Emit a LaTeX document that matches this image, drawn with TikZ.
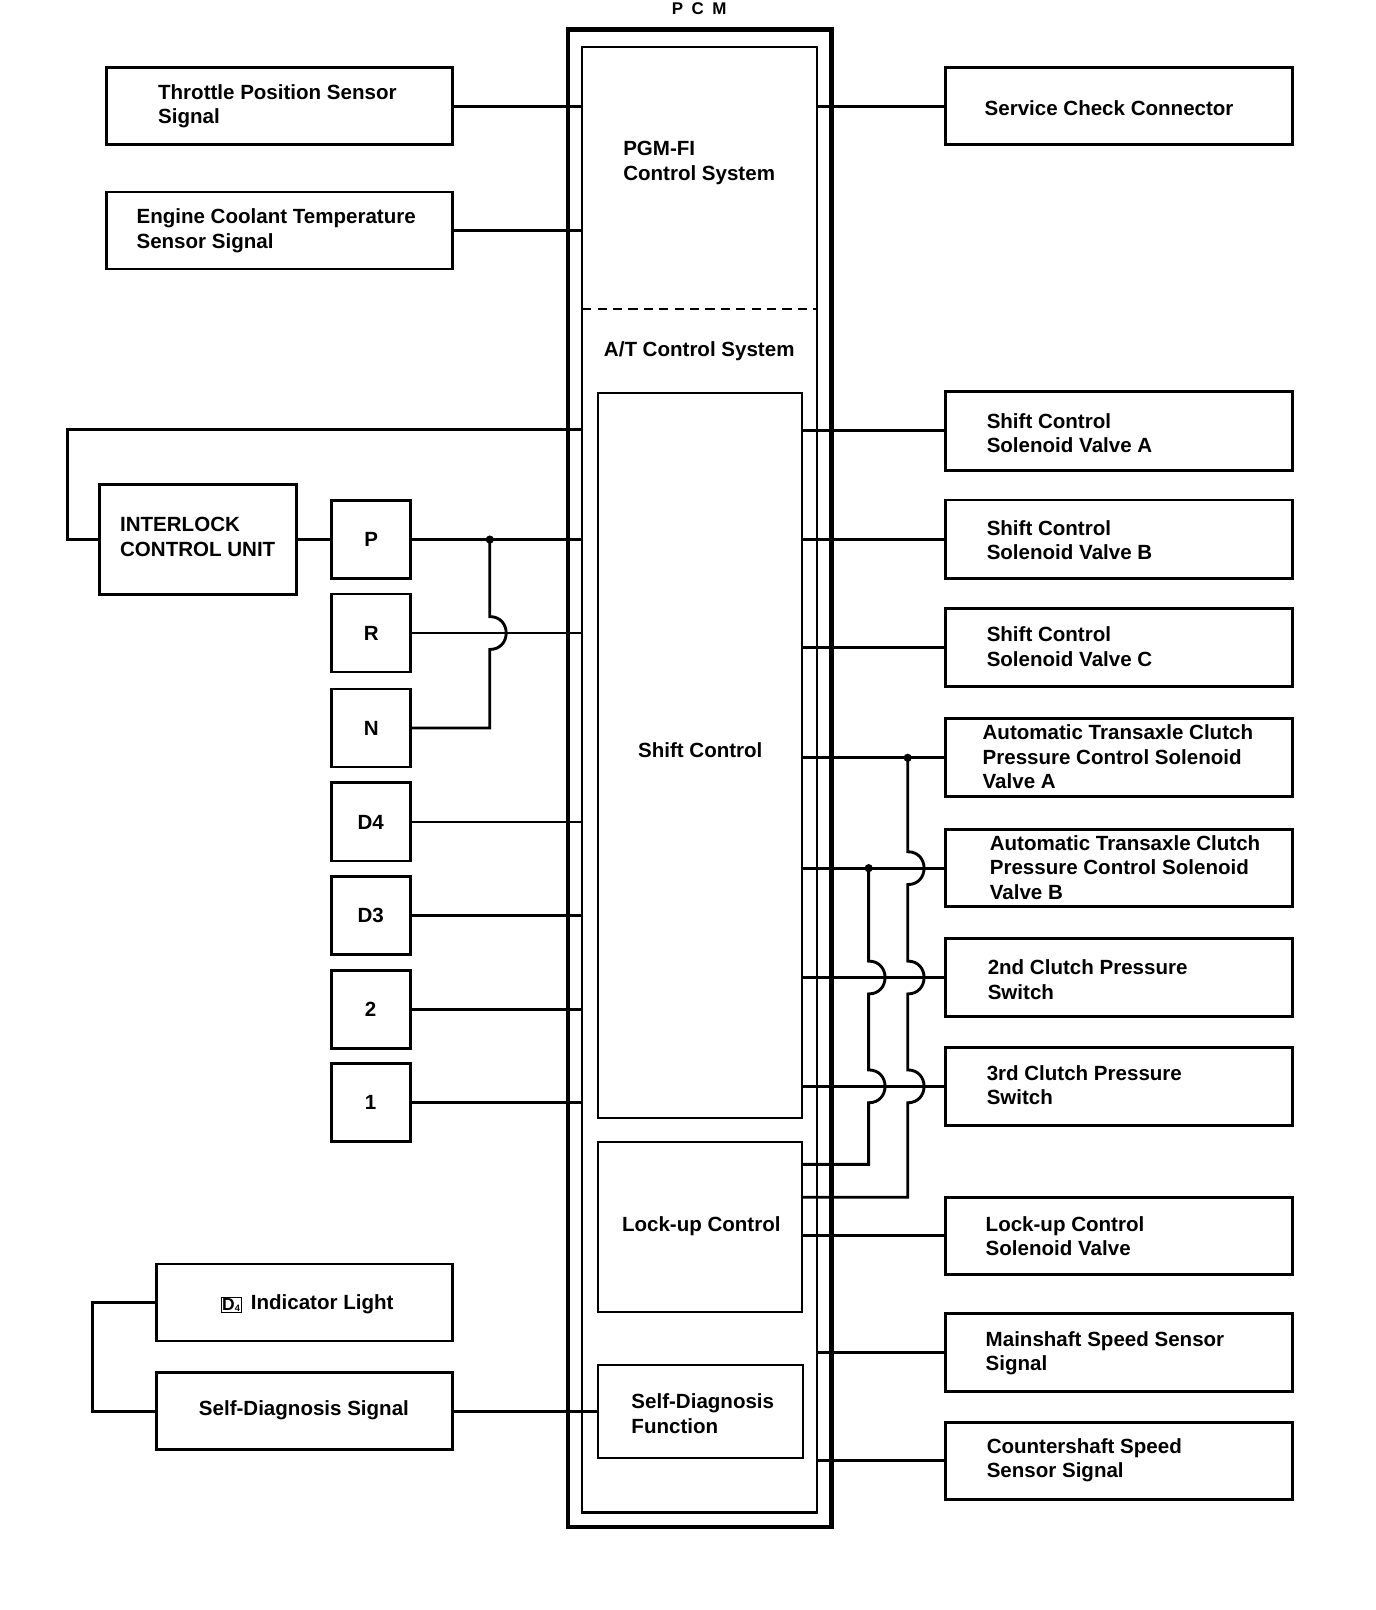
\documentclass[tikz,border=0pt]{standalone}
\usepackage{fontspec}
\setmainfont{Liberation Sans}
\usetikzlibrary{fit,calc}
\begin{document}
\begin{tikzpicture}[x=1pt,y=-1pt,
  every node/.style={inner sep=0pt,outer sep=0pt},
  box/.style={draw,line width=2.8pt},
  thinbox/.style={draw,line width=1.8pt},
  selbox/.style={draw,line width=2.8pt,minimum width=77pt,minimum height=76pt,font=\fontsize{20}{24}\selectfont\bfseries},
  wire/.style={line width=2.8pt},
  lbl/.style={font=\fontsize{20}{24}\selectfont\bfseries,align=left},
  dotn/.style={circle,fill,minimum size=8pt}]
\useasboundingbox (0,0) rectangle (1340,1568);

% ---------- PCM ----------
\node[draw,line width=4.5pt,fit={(553,29) (810,1487)}] (pcm) {};
\node[draw,line width=2pt,fit={(567,46) (796,1473)}] (pcmin) {};
\node[font=\fontsize{16.5}{18}\selectfont\bfseries,anchor=base] (pcmlbl) at (681,14) {P\hspace{0.5em}C\hspace{0.5em}M};
\coordinate (dashy) at (0,301);
\draw[line width=2pt,dash pattern=on 9pt off 6pt] (pcmin.west |- dashy) -- (pcmin.east |- dashy);
\node[lbl,anchor=west] (pgmfi) at (607,158.5) {PGM-FI\\Control System};
\node[lbl] (atcs) at (681,342) {A/T Control System};

\node[thinbox,fit={(582,383) (781,1089)}] (shift) {};
\node[lbl] (shiftt) at (682,731) {Shift Control};
\node[thinbox,fit={(582,1112) (781,1278)}] (lockup) {};
\node[lbl] (lockupt) at (683,1194) {Lock-up Control};
\node[thinbox,fit={(582,1329) (782,1420)}] (sdfun) {};
\node[lbl,anchor=west] (sdfunt) at (615,1377) {Self-Diagnosis\\Function};

% ---------- left boxes ----------
\node[box,fit={(104,66) (441,141)}] (tps) {};
\node[lbl,anchor=west] (tpst) at (154,103.5) {Throttle Position Sensor\\Signal};
\node[box,fit={(104,187) (441,262)}] (ect) {};
\node[lbl,anchor=west] (ectt) at (133,224.5) {Engine Coolant Temperature\\Sensor Signal};
\node[box,fit={(97,472) (289,579)}] (ilc) {};
\node[lbl,anchor=west] (ilct) at (117,523) {INTERLOCK\\CONTROL UNIT};

\node[selbox] (P)  at (361.5,525.5) {P};
\node[selbox] (R)  at (361.5,616.5) {R};
\node[selbox] (N)  at (361.5,709) {N};
\node[selbox] (D4) at (361,800.5) {D4};
\node[selbox] (D3) at (361,892) {D3};
\node[selbox] (S2) at (361,983) {2};
\node[selbox] (S1) at (361,1073.5) {1};

\node[box,fit={(152,1231) (441,1306)}] (dli) {};
\node[lbl] (dlit) at (299,1270) {\setlength{\fboxsep}{1pt}\setlength{\fboxrule}{0.6pt}\raisebox{-1.5pt}{\fbox{\fontsize{17}{17}\selectfont D\raisebox{-0.5pt}{\fontsize{9}{9}\selectfont 4}}}\hspace{0.45em}Indicator Light};
\node[box,fit={(152,1337) (441,1412)}] (sds) {};
\node[lbl] (sdst) at (296,1373) {Self-Diagnosis Signal};

% ---------- right boxes ----------
\node[box,fit={(921,66) (1259,141)}] (scc) {};
\node[lbl,anchor=west] (scct) at (959,105) {Service Check Connector};
\node[box,fit={(921,381) (1259,458)}] (scA) {};
\node[lbl,anchor=west] (scAt) at (961,422) {Shift Control\\Solenoid Valve A};
\node[box,fit={(921,487) (1259,563)}] (scB) {};
\node[lbl,anchor=west] (scBt) at (961,526) {Shift Control\\Solenoid Valve B};
\node[box,fit={(921,593) (1259,669)}] (scC) {};
\node[lbl,anchor=west] (scCt) at (961,630) {Shift Control\\Solenoid Valve C};
\node[box,fit={(921,700) (1259,776)}] (atcA) {};
\node[lbl,anchor=west] (atcAt) at (957,737) {Automatic Transaxle Clutch\\Pressure Control Solenoid\\Valve A};
\node[box,fit={(921,808) (1259,883)}] (atcB) {};
\node[lbl,anchor=west] (atcBt) at (964,845) {Automatic Transaxle Clutch\\Pressure Control Solenoid\\Valve B};
\node[box,fit={(921,914) (1259,990)}] (sw2) {};
\node[lbl,anchor=west] (sw2t) at (962,954) {2nd Clutch Pressure\\Switch};
\node[box,fit={(921,1020) (1259,1096)}] (sw3) {};
\node[lbl,anchor=west] (sw3t) at (961,1057) {3rd Clutch Pressure\\Switch};
\node[box,fit={(921,1166) (1259,1241)}] (lcs) {};
\node[lbl,anchor=west] (lcst) at (960,1204) {Lock-up Control\\Solenoid Valve};
\node[box,fit={(921,1279) (1259,1355)}] (mss) {};
\node[lbl,anchor=west] (msst) at (960,1318) {Mainshaft Speed Sensor\\Signal};
\node[box,fit={(921,1385) (1259,1460)}] (css) {};
\node[lbl,anchor=west] (csst) at (961,1422) {Countershaft Speed\\Sensor Signal};

% ---------- left connectors ----------
\draw[wire] (tps.east) -- (tps.east -| pcmin.west);
\draw[wire] (ect.east) -- (ect.east -| pcmin.west);
\coordinate (loopL) at (66,418);
\draw[wire] (ilc.west) -- (ilc.west -| loopL) -- (loopL) -- (loopL -| pcmin.west);
\draw[wire] (ilc.east) -- (P.west);
\draw[wire] (P.east) -- (P.east -| pcmin.west);
\draw[wire] (R.east) -- (R.east -| pcmin.west);
\coordinate (jx) at (477,0);
\node[dotn] (dotP) at (P.east -| jx) {};
\draw[wire] (N.east) -- (N.east -| jx) -- ($(R.east -| jx)+(0,16)$)
  .. controls +(21.3,0) and +(21.3,0) .. ($(R.east -| jx)+(0,-16)$) -- (dotP.center);
\draw[wire] (D4.east) -- (D4.east -| pcmin.west);
\draw[wire] (D3.east) -- (D3.east -| pcmin.west);
\draw[wire] (S2.east) -- (S2.east -| pcmin.west);
\draw[wire] (S1.east) -- (S1.east -| pcmin.west);
\draw[wire] (sds.east) -- (sdfun.west);
\coordinate (loopD) at (90,0);
\draw[wire] (dli.west) -- (dli.west -| loopD) -- (sds.west -| loopD) -- (sds.west);

% ---------- right connectors ----------
\draw[wire] (scc.west -| pcmin.east) -- (scc.west);
\draw[wire] (scA.west -| shift.east) -- (scA.west);
\draw[wire] (scB.west -| shift.east) -- (scB.west);
\draw[wire] (scC.west -| shift.east) -- (scC.west);
\draw[wire] (atcA.west -| shift.east) -- (atcA.west);
\draw[wire] (atcB.west -| shift.east) -- (atcB.west);
\draw[wire] (sw2.west -| shift.east) -- (sw2.west);
\draw[wire] (sw3.west -| shift.east) -- (sw3.west);
\draw[wire] (lcs.west -| lockup.east) -- (lcs.west);
\draw[wire] (mss.west -| pcmin.east) -- (mss.west);
\draw[wire] (css.west -| pcmin.east) -- (css.west);

\coordinate (jA) at (884,0);
\coordinate (jB) at (846,0);
\coordinate (lkA) at (0,1166);
\coordinate (lkB) at (0,1134);
\node[dotn] (dA) at (atcA.west -| jA) {};
\node[dotn] (dB) at (atcB.west -| jB) {};
\draw[wire] (dA.center)
  -- ($(atcB.west -| jA)+(0,-16)$) .. controls +(21.3,0) and +(21.3,0) .. ($(atcB.west -| jA)+(0,16)$)
  -- ($(sw2.west -| jA)+(0,-16)$) .. controls +(21.3,0) and +(21.3,0) .. ($(sw2.west -| jA)+(0,16)$)
  -- ($(sw3.west -| jA)+(0,-16)$) .. controls +(21.3,0) and +(21.3,0) .. ($(sw3.west -| jA)+(0,16)$)
  -- (lkA -| jA) -- (lkA -| lockup.east);
\draw[wire] (dB.center)
  -- ($(sw2.west -| jB)+(0,-16)$) .. controls +(21.3,0) and +(21.3,0) .. ($(sw2.west -| jB)+(0,16)$)
  -- ($(sw3.west -| jB)+(0,-16)$) .. controls +(21.3,0) and +(21.3,0) .. ($(sw3.west -| jB)+(0,16)$)
  -- (lkB -| jB) -- (lkB -| lockup.east);
\end{tikzpicture}
\end{document}
